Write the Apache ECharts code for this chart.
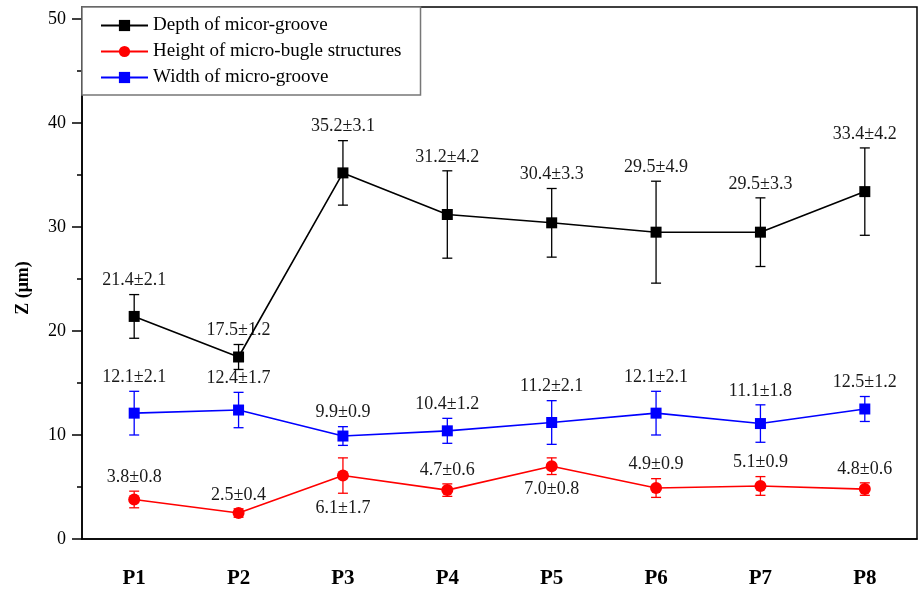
<!DOCTYPE html>
<html>
<head>
<meta charset="utf-8">
<style>
  html, body { margin: 0; padding: 0; background: #fff; }
  #chart { width: 919px; height: 592px; }
</style>
<script src="https://cdn.jsdelivr.net/npm/echarts@6/dist/echarts.min.js"></script>
</head>
<body>
<div id="chart"></div>
<script>
// Sampling positions
const categories = ['P1', 'P2', 'P3', 'P4', 'P5', 'P6', 'P7', 'P8'];

// Depth of micro-groove (mean, standard deviation)
const depthMean = [21.4, 17.5, 35.2, 31.2, 30.4, 29.5, 29.5, 33.4];
const depthErr  = [2.1, 1.2, 3.1, 4.2, 3.3, 4.9, 3.3, 4.2];

// Height of micro-bulge structures
const heightMean = [3.8, 2.5, 6.1, 4.7, 7.0, 4.9, 5.1, 4.8];
const heightErr  = [0.8, 0.4, 1.7, 0.6, 0.8, 0.9, 0.9, 0.6];
const heightLabelSide = ['top', 'top', 'bottom', 'top', 'bottom', 'top', 'top', 'top'];

// Width of micro-groove
const widthMean = [12.1, 12.4, 9.9, 10.4, 11.2, 12.1, 11.1, 12.5];
const widthErr  = [2.1, 1.7, 0.9, 1.2, 2.1, 2.1, 1.8, 1.2];

// Axis ticks
const yMajorTicks = [0, 10, 20, 30, 40, 50];
const yMinorTicks = [5, 15, 25, 35, 45];

const SERIF = '"Liberation Serif", "Times New Roman", serif';
const Y_MAX = 51.15;

function errorBars(means, errs, color, sides) {
  return {
    type: 'custom',
    z: 2,
    silent: true,
    encode: { x: 0, y: 1 },
    data: means.map((m, i) => [i, m, errs[i]]),
    renderItem(params, api) {
      const i = api.value(0);
      const m = api.value(1);
      const e = api.value(2);
      const top = api.coord([i, m + e]);
      const bot = api.coord([i, m - e]);
      const hw = 5;
      const ls = { stroke: color, lineWidth: 1.3 };
      const side = sides ? sides[i] : 'top';
      const label = m.toFixed(1) + '\u00b1' + e.toFixed(1);
      return {
        type: 'group',
        children: [
          { type: 'line', shape: { x1: top[0], y1: top[1], x2: bot[0], y2: bot[1] }, style: ls },
          { type: 'line', shape: { x1: top[0] - hw, y1: top[1], x2: top[0] + hw, y2: top[1] }, style: ls },
          { type: 'line', shape: { x1: bot[0] - hw, y1: bot[1], x2: bot[0] + hw, y2: bot[1] }, style: ls },
          {
            type: 'text',
            style: {
              text: label,
              x: top[0],
              y: side === 'top' ? top[1] - 5 : bot[1] + 6,
              align: 'center',
              verticalAlign: side === 'top' ? 'bottom' : 'top',
              font: '18px ' + SERIF,
              fill: '#1a1a1a'
            }
          }
        ]
      };
    }
  };
}

function lineSeries(name, means, color, symbol, size) {
  return {
    name,
    type: 'line',
    z: 3,
    data: means,
    symbol,
    symbolSize: size,
    showAllSymbol: true,
    color,
    lineStyle: { color, width: 1.6 },
    itemStyle: { color },
    emphasis: { disabled: true },
    animation: false
  };
}

const chart = echarts.init(document.getElementById('chart'), null, { renderer: 'canvas' });

chart.setOption({
  animation: false,
  backgroundColor: '#fff',
  grid: {
    left: 82, right: 2, top: 7, bottom: 53,
    show: true, borderColor: '#000', borderWidth: 1.5, backgroundColor: 'transparent'
  },
  legend: {
    left: 82, top: 7,
    orient: 'vertical',
    data: ['Depth of micor-groove', 'Height of micro-bugle structures', 'Width of micro-groove'],
    itemWidth: 47, itemHeight: 14, itemGap: 7,
    padding: [9, 19, 8, 18],
    borderColor: '#777', borderWidth: 1.5, backgroundColor: '#fff',
    textStyle: { fontFamily: SERIF, fontSize: 19, color: '#000' },
    selectedMode: false
  },
  xAxis: {
    type: 'category',
    data: categories,
    boundaryGap: true,
    axisLine: { lineStyle: { color: '#000', width: 1.5 } },
    axisTick: { alignWithLabel: true, length: 10, lineStyle: { color: '#000', width: 1.5 } },
    axisLabel: { fontFamily: SERIF, fontSize: 21, fontWeight: 'bold', color: '#000', margin: 29 },
    splitLine: { show: false }
  },
  yAxis: [
    {
      type: 'value',
      min: 0, max: Y_MAX,
      name: 'Z (\u03bcm)',
      nameLocation: 'middle',
      nameGap: 50,
      nameTextStyle: { fontFamily: SERIF, fontSize: 18, fontWeight: 'bold', color: '#000', padding: [0, 30, 0, 0] },
      axisLine: { show: true, lineStyle: { color: '#000', width: 1.5 } },
      axisTick: { show: true, length: 10, customValues: yMajorTicks, lineStyle: { color: '#000', width: 1.5 } },
      axisLabel: { customValues: yMajorTicks, fontFamily: SERIF, fontSize: 18, color: '#000', margin: 16 },
      splitLine: { show: false }
    },
    {
      type: 'value',
      min: 0, max: Y_MAX,
      position: 'left',
      axisLine: { show: false },
      axisTick: { show: true, length: 5, customValues: yMinorTicks, lineStyle: { color: '#000', width: 1.5 } },
      axisLabel: { show: false },
      splitLine: { show: false }
    }
  ],
  series: [
    errorBars(depthMean, depthErr, '#000000', null),
    errorBars(heightMean, heightErr, '#ff0000', heightLabelSide),
    errorBars(widthMean, widthErr, '#0000ff', null),
    lineSeries('Depth of micor-groove', depthMean, '#000000', 'rect', 11),
    lineSeries('Height of micro-bugle structures', heightMean, '#ff0000', 'circle', 12),
    lineSeries('Width of micro-groove', widthMean, '#0000ff', 'rect', 11)
  ]
});
</script>
</body>
</html>
